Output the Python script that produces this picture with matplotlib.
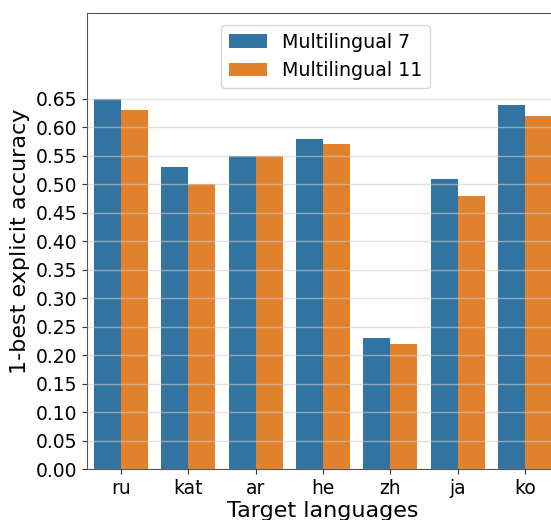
import numpy as np
import matplotlib
matplotlib.use("Agg")
from matplotlib import pyplot as plt

languages = ["ru", "kat", "ar", "he", "zh", "ja", "ko"]
multi7 = [0.65, 0.53, 0.55, 0.58, 0.23, 0.51, 0.64]
multi11 = [0.63, 0.50, 0.55, 0.57, 0.22, 0.48, 0.62]
series_names = ["Multilingual 7", "Multilingual 11"]
colors = ["#3274a1", "#e1812c"]

fig = plt.figure(figsize=(5.51, 5.20), dpi=100)
# axes run a little past the right edge, like the cropped original
ax = fig.add_axes([87 / 551, 50.7 / 520, 472 / 551, 456 / 520])

x = np.arange(len(languages))
w = 0.4
ax.bar(x - w / 2, multi7, w, color=colors[0], label=series_names[0], zorder=1)
ax.bar(x + w / 2, multi11, w, color=colors[1], label=series_names[1], zorder=1)

ax.set_xlim(-0.5, 6.5)
ax.set_ylim(0, 0.8)
ax.set_yticks(np.arange(0, 0.66, 0.05))
ax.set_yticklabels(["%.2f" % v for v in np.arange(0, 0.66, 0.05)])
ax.set_xticks(x)
ax.set_xticklabels(languages)
ax.tick_params(labelsize=13.5, colors="#333333", labelcolor="black")
ax.yaxis.grid(True, color="#cccccc", alpha=0.6, linewidth=1, zorder=3)
ax.set_axisbelow(False)
for s in ax.spines.values():
    s.set_color("#555555")

ax.set_xlabel("Target languages", fontsize=16, labelpad=2)
ax.set_ylabel("1-best explicit accuracy", fontsize=16, labelpad=4)
ax.legend(loc="upper center", fontsize=13.7, bbox_to_anchor=(0.505, 0.995))

fig.savefig("out.png", dpi=100)
